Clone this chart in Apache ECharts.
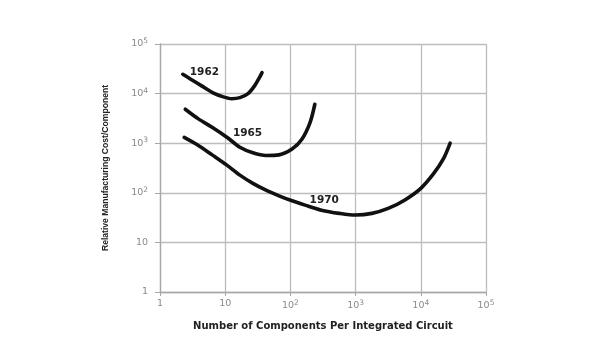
<!DOCTYPE html>
<html><head><meta charset="utf-8">
<script src="https://cdn.jsdelivr.net/npm/echarts@6/dist/echarts.min.js"></script>
<style>html,body{margin:0;padding:0;background:#fff}#c{width:600px;height:363px}</style>
</head><body><div id="c"></div>
<script>
// Data (components per IC, relative manufacturing cost per component)
const curve1962 = [[2.24,24500],[2.96,19500],[4.35,14300],[6.38,10500],[9.37,8600],[12.6,7900],[16.8,8300],[22.4,10000],[28.2,14300],[33.5,21000],[36.7,26500]];
const curve1965 = [[2.44,4840],[3.83,3130],[6.38,2070],[10.6,1320],[16.8,830],[26.6,640],[42.2,565],[66.8,582],[106,760],[150,1200],[200,2600],[237,6100]];
const curve1970 = [[2.35,1310],[3.83,910],[6.38,575],[10.6,361],[16.8,227],[26.6,155],[42.2,113],[66.8,87],[106,69],[168,56.5],[299,44.7],[563,38.5],[1000,35.6],[1780,38.5],[3160,48.4],[5620,71],[10000,123],[15800,246],[22400,493],[28200,1000]];
const seriesNames = ['1962','1965','1970'];
const labelPositions = [[4.8,26500],[22,1590],[330,71]];
const tickBases = {1:'1',10:'10',100:'10',1000:'10',10000:'10',100000:'10'};
const tickExponents = {1:'',10:'',100:'2',1000:'3',10000:'4',100000:'5'};
const xName = 'Number of Components Per Integrated Circuit';
const yName = 'Relative Manufacturing Cost/Component';

const chart = echarts.init(document.getElementById('c'), null, {renderer:'canvas'});
const gridLine = {show:true, lineStyle:{color:'#bdbdbd', width:1.3}};
const axisLine = {show:true, lineStyle:{color:'#a8a8a8', width:1.3}};
const fmt = (v) => { const k = Math.round(v); if (tickBases[k] === undefined) return ''; return tickExponents[k] ? tickBases[k] + '{s|' + tickExponents[k] + '}' : tickBases[k]; };
const tickFont = 'DejaVu Sans, Liberation Sans, Arial';
const rich = {s:{fontSize:7.5, color:'#8a8a8a', fontFamily:tickFont, padding:[0,0,6,0]}};
const datasets = [curve1962, curve1965, curve1970];
chart.setOption({
  animation:false,
  backgroundColor:'#fff',
  grid:{left:160, right:114, top:44, bottom:71},
  xAxis:{type:'log', logBase:10, min:1, max:100000,
    splitLine:gridLine, axisLine:axisLine, axisTick:{show:true, length:4, lineStyle:{color:'#a8a8a8'}},
    minorTick:{show:false}, minorSplitLine:{show:false},
    axisLabel:{formatter:fmt, rich:rich, color:'#8a8a8a', fontSize:9.5, margin:7, fontFamily:tickFont},
    name:xName, nameLocation:'middle', nameGap:29,
    nameTextStyle:{fontWeight:'bold', fontSize:10, color:'#222', fontFamily:'DejaVu Sans, Liberation Sans, Arial'}},
  yAxis:{type:'log', logBase:10, min:1, max:100000,
    splitLine:gridLine, axisLine:axisLine, axisTick:{show:true, length:5, lineStyle:{color:'#a8a8a8'}},
    axisLabel:{formatter:fmt, rich:rich, color:'#8a8a8a', fontSize:9.5, margin:12, fontFamily:tickFont},
    name:yName, nameLocation:'middle', nameGap:50, nameRotate:90,
    nameTextStyle:{fontWeight:'bold', fontSize:8.6, color:'#222', fontFamily:'Liberation Sans, Arial'}},
  series: datasets.map((d,i)=>({
    type:'line', name:seriesNames[i], data:d, smooth:0.3, showSymbol:false, symbol:'none',
    lineStyle:{color:'#111', width:3.6, cap:'round', join:'round'},
    markPoint:{symbol:'circle', symbolSize:0, silent:true,
      data:[{coord:labelPositions[i], value:seriesNames[i]}],
      label:{show:true, position:'inside', formatter:seriesNames[i], color:'#222', fontWeight:'bold', fontSize:10.5, fontFamily:'DejaVu Sans, Liberation Sans, Arial'}}
  }))
});
</script></body></html>
